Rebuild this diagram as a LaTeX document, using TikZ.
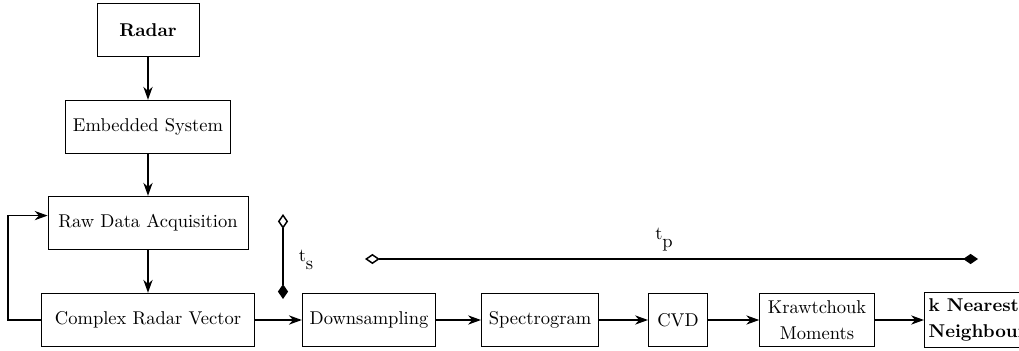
\documentclass[tikz,border=0pt]{standalone}
\usepackage{tikz}
\usetikzlibrary{arrows.meta,positioning}

\tikzset{
  block/.style={draw, minimum height=29pt, inner xsep=4pt, align=center},
  flow/.style={thick, -{Stealth[length=7pt,width=5pt]}},
  span/.style={thick, {Diamond[open,length=8pt,width=5.5pt]}-{Diamond[length=8pt,width=5.5pt]}}
}

\begin{document}
\begin{tikzpicture}[x=0.54pt,y=-0.54pt]
\useasboundingbox (0,0) rectangle (1019,351);
\clip (0,0) rectangle (1019,351);
% vertical chain
\node [block, minimum width=55pt] (radar) at (148,30) {\textbf{Radar}};
\node [block, minimum width=87pt] (emb) at (148,127) {Embedded System};
\node [block, minimum width=108pt] (raw) at (148,223) {Raw Data Acquisition};
\node [block, minimum width=115pt] (crv) at (148,320) {Complex Radar Vector};
% horizontal chain
\node [block, minimum width=70pt] (down) at (369,320) {Downsampling};
\node [block, minimum width=62pt] (spec) at (540,320) {Spectrogram};
\node [block, minimum width=32pt] (cvd) at (678,320) {CVD};
\node [block, minimum width=62pt] (kraw) at (817,320) {Krawtchouk\\[2pt]Moments};
\node [block, minimum width=62pt, inner xsep=2pt, align=left, anchor=west] (knn) at (924,320) {\textbf{k Nearest}\\[2pt]\textbf{Neighbours}};

\draw [flow] (radar) -- (emb);
\draw [flow] (emb) -- (raw);
\draw [flow] (raw) -- (crv);
\draw [flow] (crv.west) -- (8,320) |- ([yshift=4pt]raw.west);
\draw [flow] (crv) -- (down);
\draw [flow] (down) -- (spec);
\draw [flow] (spec) -- (cvd);
\draw [flow] (cvd) -- (kraw);
\draw [flow] (kraw) -- (knn);

% timing
\coordinate (ts1) at (283,214);
\coordinate (ts2) at (283,299);
\draw [span] (ts1) -- (ts2);
\node (tslabel) at (306,260) {t\raisebox{-1ex}{s}};
\coordinate (tp1) at (365,259);
\coordinate (tp2) at (978,259);
\draw [span] (tp1) -- (tp2);
\node (tplabel) at (664,240) {t\raisebox{-1ex}{p}};
\end{tikzpicture}
\end{document}
